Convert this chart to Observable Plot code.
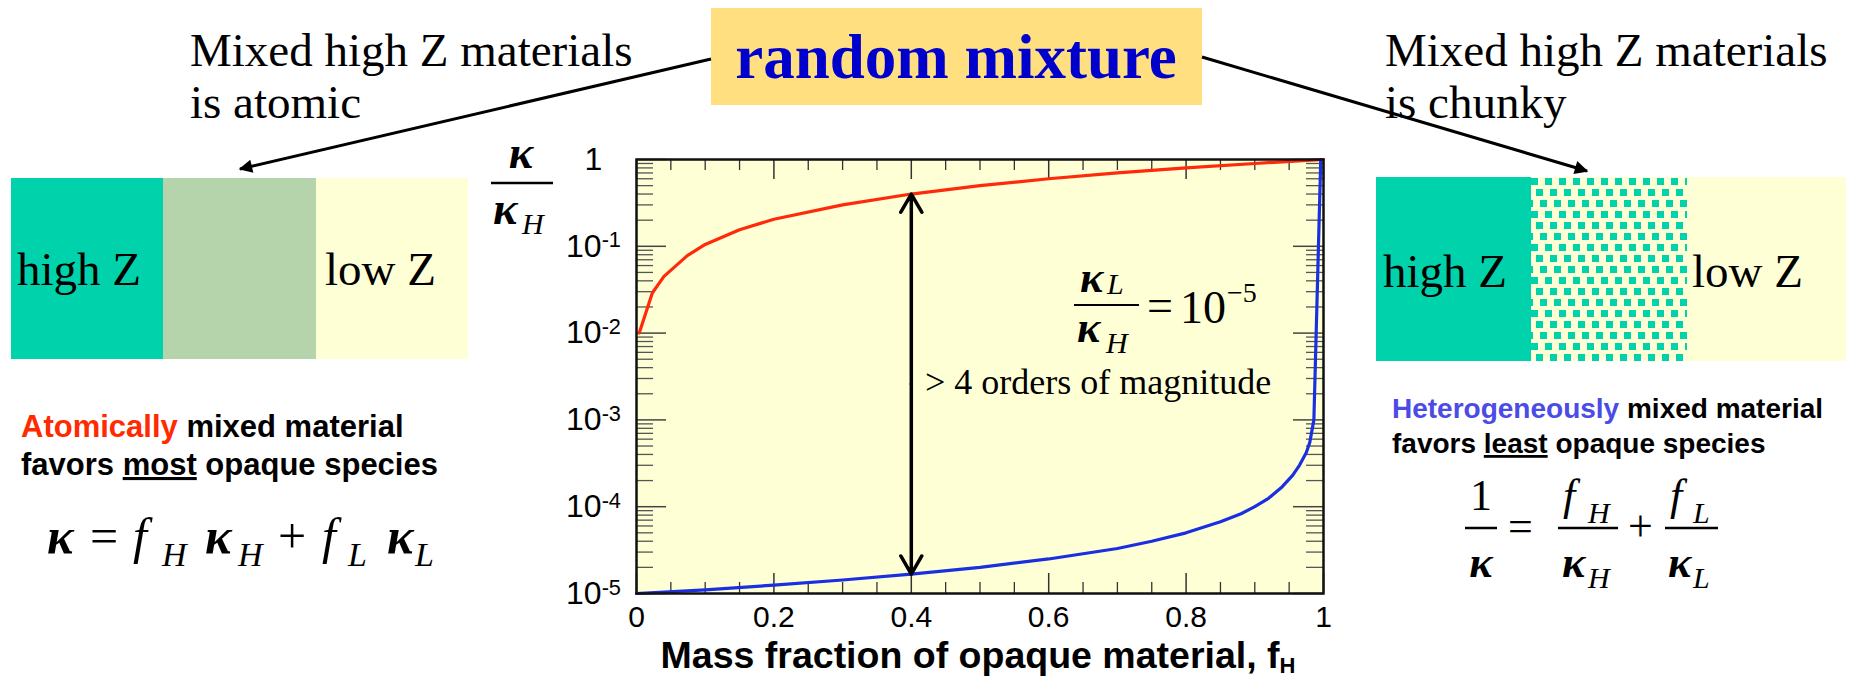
<!DOCTYPE html>
<html><head><meta charset="utf-8">
<script src="https://cdn.jsdelivr.net/npm/d3@7"></script>
<script src="https://cdn.jsdelivr.net/npm/@observablehq/plot@0.6"></script>
<style>
html,body{margin:0;padding:0;background:#fff;}
#wrap{position:relative;width:1853px;height:682px;overflow:hidden;background:#fff;}
#chart{position:absolute;left:0;top:0;}
#ov{position:absolute;left:0;top:0;pointer-events:none;}
.serif{font-family:"Liberation Serif","Times New Roman",serif;}
.sans{font-family:"Liberation Sans",Arial,sans-serif;font-weight:bold;}
.it{font-style:italic;}
.k{font-style:italic;font-weight:bold;}
</style></head>
<body>
<div id="wrap">
<div id="chart"></div>
<svg id="ov" width="1853" height="682" viewBox="0 0 1853 682">
<defs>
  <pattern id="chunk" width="14" height="33" patternUnits="userSpaceOnUse">
    <rect width="14" height="33" fill="#FFFFD6"/>
    <rect x="0" y="2" width="7" height="7" fill="#00D3AB"/>
    <rect x="5" y="13" width="7" height="7" fill="#00D3AB"/>
    <rect x="10" y="24" width="7" height="7" fill="#00D3AB"/>
    <rect x="-4" y="24" width="7" height="7" fill="#00D3AB"/>
  </pattern>
  <marker id="ah" viewBox="0 0 10 10" refX="9" refY="5" markerWidth="6.5" markerHeight="4.5" orient="auto" markerUnits="strokeWidth">
    <path d="M0,0 L10,5 L0,10 z" fill="#000"/>
  </marker>
</defs>
<!-- top labels -->
<g class="serif" font-size="47" fill="#000">
  <text x="190" y="66">Mixed high Z materials</text>
  <text x="190" y="118">is atomic</text>
  <text x="1385" y="66">Mixed high Z materials</text>
  <text x="1385" y="118">is chunky</text>
</g>
<rect x="711" y="8" width="491" height="97" fill="#FFDF80"/>
<text class="serif" x="956" y="78" text-anchor="middle" font-size="63" font-weight="bold" fill="#0000CC">random mixture</text>
<!-- left block -->
<rect x="11" y="178" width="152" height="181" fill="#00D3AB"/>
<rect x="163" y="178" width="153" height="181" fill="#B5D4AB"/>
<rect x="316" y="178" width="152" height="181" fill="#FFFFD6"/>
<!-- right block -->
<rect x="1376" y="177" width="155" height="184" fill="#00D3AB"/>
<rect x="1531" y="177" width="156" height="184" fill="url(#chunk)"/>
<rect x="1687" y="177" width="159" height="184" fill="#FFFFD6"/>
<g class="serif" font-size="47" fill="#000">
  <text x="17" y="285">high Z</text>
  <text x="325" y="285">low Z</text>
  <text x="1383" y="287">high Z</text>
  <text x="1692" y="287">low Z</text>
</g>
<!-- arrows from title -->
<line x1="711" y1="59" x2="240" y2="169" stroke="#000" stroke-width="3" marker-end="url(#ah)"/>
<line x1="1202" y1="57" x2="1587" y2="171" stroke="#000" stroke-width="3" marker-end="url(#ah)"/>
<!-- left explanation -->
<text class="sans" x="21" y="437" font-size="31"><tspan fill="#FF2A00">Atomically</tspan> mixed material</text>
<text class="sans" x="21" y="475" font-size="31">favors <tspan text-decoration="underline">most</tspan> opaque species</text>
<g class="serif" fill="#000">
  <text class="k" x="47" y="553" font-size="50">κ</text>
  <text x="90" y="553" font-size="50">=</text>
  <text class="it" x="133" y="553" font-size="50">f</text>
  <text class="it" x="162" y="566" font-size="34">H</text>
  <text class="k" x="205" y="553" font-size="50">κ</text>
  <text class="it" x="238" y="566" font-size="34">H</text>
  <text x="278" y="553" font-size="50">+</text>
  <text class="it" x="322" y="553" font-size="50">f</text>
  <text class="it" x="348" y="566" font-size="34">L</text>
  <text class="k" x="387" y="553" font-size="50">κ</text>
  <text class="it" x="415" y="566" font-size="34">L</text>
</g>
<!-- right explanation -->
<text class="sans" x="1392" y="418" font-size="28"><tspan fill="#4B4BE6">Heterogeneously</tspan> mixed material</text>
<text class="sans" x="1392" y="453" font-size="28">favors <tspan text-decoration="underline">least</tspan> opaque species</text>
<g class="serif" fill="#000">
  <text x="1481" y="510" font-size="44" text-anchor="middle">1</text>
  <line x1="1465" y1="528" x2="1497" y2="528" stroke="#000" stroke-width="2.5"/>
  <text class="k" x="1481" y="577" font-size="44" text-anchor="middle">κ</text>
  <text x="1508" y="541" font-size="44">=</text>
  <text class="it" x="1563" y="510" font-size="44">f</text>
  <text class="it" x="1588" y="523" font-size="30">H</text>
  <line x1="1558" y1="528" x2="1618" y2="528" stroke="#000" stroke-width="2.5"/>
  <text class="k" x="1562" y="577" font-size="44">κ</text>
  <text class="it" x="1588" y="588" font-size="30">H</text>
  <text x="1628" y="541" font-size="44">+</text>
  <text class="it" x="1670" y="510" font-size="44">f</text>
  <text class="it" x="1693" y="523" font-size="30">L</text>
  <line x1="1665" y1="528" x2="1718" y2="528" stroke="#000" stroke-width="2.5"/>
  <text class="k" x="1668" y="577" font-size="44">κ</text>
  <text class="it" x="1693" y="588" font-size="30">L</text>
</g>
<!-- y label kappa / kappa_H -->
<g class="serif" fill="#000">
  <text class="k" x="521" y="168" font-size="46" text-anchor="middle">κ</text>
  <line x1="491" y1="183" x2="553" y2="183" stroke="#000" stroke-width="2.5"/>
  <text class="k" x="493" y="224" font-size="46">κ</text>
  <text class="it" x="522" y="234" font-size="30">H</text>
</g>
<!-- ratio annotation -->
<g class="serif" fill="#000">
  <text class="k" x="1080" y="292" font-size="44">κ</text>
  <text class="it" x="1107" y="294" font-size="30">L</text>
  <line x1="1074" y1="305" x2="1139" y2="305" stroke="#000" stroke-width="2.2"/>
  <text class="k" x="1077" y="342" font-size="44">κ</text>
  <text class="it" x="1106" y="353" font-size="30">H</text>
  <text x="1147" y="321" font-size="46">=</text>
  <text x="1180" y="323" font-size="46">10</text>
  <text x="1227" y="302" font-size="28">−5</text>
</g>
<text class="serif" x="925" y="394" font-size="36" fill="#000">&gt; 4 orders of magnitude</text>
<!-- x axis title -->
<text class="sans" x="978" y="668" font-size="37.5" text-anchor="middle">Mass fraction of opaque material, f<tspan font-size="22" dy="5">H</tspan></text>
</svg>
</div>
<script>
// ---- data ----
const atomicF     = [0.004, 0.023, 0.04, 0.074, 0.1, 0.15, 0.2, 0.3, 0.4, 0.5, 0.6, 0.7, 0.8, 0.9, 1.0];
const atomicKappa = [0.01, 0.029, 0.045, 0.078, 0.105, 0.155, 0.205, 0.3, 0.4, 0.5, 0.6, 0.7, 0.8, 0.9, 1.0];
const chunkyF     = [0, 0.1, 0.2, 0.3, 0.4, 0.5, 0.6, 0.7, 0.75, 0.8, 0.85, 0.88, 0.9, 0.92, 0.94, 0.955, 0.965, 0.975, 0.98, 0.986, 0.996];
const chunkyKappa = [1.0e-5, 1.1e-5, 1.25e-5, 1.43e-5, 1.67e-5, 2.0e-5, 2.5e-5, 3.3e-5, 4.0e-5, 5.0e-5, 6.7e-5, 8.3e-5, 1.0e-4, 1.25e-4, 1.7e-4, 2.3e-4, 3.0e-4, 4.2e-4, 5.5e-4, 1.0e-3, 1.0];
const gapF = 0.4;
const gapEnds = [0.4, 1.67e-5];
const xTickValues = [0, 0.2, 0.4, 0.6, 0.8, 1];
const xTickLabels = ["0", "0.2", "0.4", "0.6", "0.8", "1"];
const yTickValues = [1, 1e-1, 1e-2, 1e-3, 1e-4, 1e-5];
const yTickLabels = ["1", "10^-1", "10^-2", "10^-3", "10^-4", "10^-5"];
const xMinorTicks = [0.05, 0.1, 0.15, 0.25, 0.3, 0.35, 0.45, 0.5, 0.55, 0.65, 0.7, 0.75, 0.85, 0.9, 0.95];
const yMinorMantissas = [2, 3, 4, 5, 6, 7, 8, 9];
const yDecades = [-5, -4, -3, -2, -1];

const atomic = atomicF.map((f, i) => ({f, k: atomicKappa[i]}));
const chunky = chunkyF.map((f, i) => ({f, k: chunkyKappa[i]}));
const yMinorTicks = yDecades.flatMap(e => yMinorMantissas.map(m => m * Math.pow(10, e)));
const mid = Math.sqrt(gapEnds[0] * gapEnds[1]);
const gapArrows = gapEnds.map(end => ({x: gapF, y1: mid, y2: end}));

const W = 1853, H = 682;
const mL = 636, mR = W - 1323, mT = 159, mB = H - 593;
const pw = W - mL - mR, ph = H - mT - mB;

const chart = Plot.plot({
  width: W, height: H,
  marginLeft: mL, marginRight: mR, marginTop: mT, marginBottom: mB,
  style: {background: "transparent", fontFamily: "Liberation Sans, Arial, sans-serif", overflow: "visible"},
  x: {domain: [0, 1], axis: null},
  y: {type: "log", domain: [1e-5, 1], axis: null},
  marks: [
    Plot.frame({fill: "#FFFFD6", stroke: null}),
    Plot.tickY(yMinorTicks, {y: d => d, insetRight: pw - 17, stroke: "#555", strokeWidth: 1.3}),
    Plot.tickY(yMinorTicks, {y: d => d, insetLeft: pw - 17, stroke: "#555", strokeWidth: 1.3}),
    Plot.tickY(yTickValues, {y: d => d, insetRight: pw - 30, stroke: "#444", strokeWidth: 1.5}),
    Plot.tickY(yTickValues, {y: d => d, insetLeft: pw - 30, stroke: "#444", strokeWidth: 1.5}),
    Plot.tickX(xMinorTicks, {x: d => d, insetTop: ph - 11, stroke: "#333", strokeWidth: 1.3}),
    Plot.tickX(xMinorTicks, {x: d => d, insetBottom: ph - 11, stroke: "#333", strokeWidth: 1.3}),
    Plot.tickX(xTickValues, {x: d => d, insetTop: ph - 20, stroke: "#333", strokeWidth: 1.5}),
    Plot.tickX(xTickValues, {x: d => d, insetBottom: ph - 20, stroke: "#333", strokeWidth: 1.5}),
    Plot.line(atomic, {x: "f", y: "k", stroke: "#FF2A0A", strokeWidth: 3.2}),
    Plot.line(chunky, {x: "f", y: "k", stroke: "#1A30E0", strokeWidth: 3.2}),
    Plot.arrow(gapArrows, {x1: "x", x2: "x", y1: "y1", y2: "y2", stroke: "#000", strokeWidth: 3.5, headLength: 9, headAngle: 60}),
    Plot.frame({stroke: "#111", strokeWidth: 2.5}),
    Plot.text(xTickValues, {x: d => d, text: (d, i) => xTickLabels[i], frameAnchor: "bottom", lineAnchor: "middle", dy: 24, fontSize: 30, fill: "#000"}),
    Plot.text(yTickValues, {y: d => d, text: (d, i) => yTickLabels[i], frameAnchor: "left", lineAnchor: "middle", dx: -43, textAnchor: "middle", fontSize: 32, fill: "#000"})
  ]
});
document.getElementById("chart").appendChild(chart);

// render exponents as superscripts
chart.querySelectorAll("text").forEach(t => {
  const s = t.textContent;
  if (s.includes("^")) {
    const [base, exp] = s.split("^");
    t.textContent = base;
    const sup = document.createElementNS("http://www.w3.org/2000/svg", "tspan");
    sup.setAttribute("dy", "-0.42em");
    sup.setAttribute("font-size", "0.68em");
    sup.textContent = exp;
    t.appendChild(sup);
  }
});
</script>
</body></html>
